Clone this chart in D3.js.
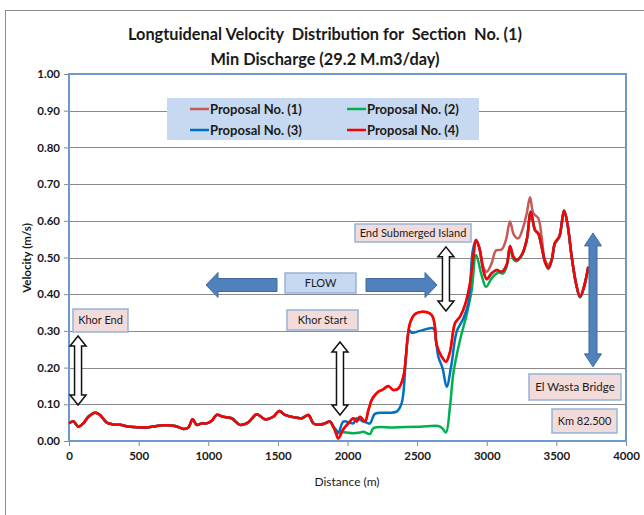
<!DOCTYPE html>
<html>
<head>
<meta charset="utf-8">
<script src="https://cdn.jsdelivr.net/npm/d3@7"></script>
<style>
body { margin: 0; background: #fff; }
text { font-family: Lato, "Open Sans", sans-serif; fill: #1a1a1a; white-space: pre; }
</style>
</head>
<body>
<svg width="644" height="515"></svg>
<script>
// ---- data ----
var seriesNames = ["Proposal No. (1)", "Proposal No. (2)", "Proposal No. (3)", "Proposal No. (4)"];
var seriesColors = ["#C55A58", "#00B050", "#0070C0", "#FF0000"];
var xTicks = [0, 500, 1000, 1500, 2000, 2500, 3000, 3500, 4000];
var yTicks = [0, 0.1, 0.2, 0.3, 0.4, 0.5, 0.6, 0.7, 0.8, 0.9, 1.0];

// stretch shared by all four proposals (distance m, velocity m/s)
var sharedDist = [0, 31, 67, 103, 139, 187, 223, 271, 318, 366, 438, 558, 677, 761, 821, 857, 888, 917, 953, 989,
    1025, 1060, 1108, 1168, 1228, 1276, 1300, 1348, 1408, 1467, 1510, 1551, 1611, 1671, 1719, 1755, 1790, 1838, 1874, 1898];
var sharedVel = [0.048, 0.054, 0.039, 0.048, 0.066, 0.077, 0.071, 0.050, 0.045, 0.044, 0.039, 0.037, 0.043, 0.041, 0.033, 0.037, 0.059, 0.044, 0.048, 0.048,
    0.055, 0.071, 0.066, 0.062, 0.044, 0.048, 0.055, 0.073, 0.059, 0.066, 0.082, 0.071, 0.065, 0.062, 0.071, 0.048, 0.044, 0.048, 0.053, 0.039];

var p1Dist = [1917, 1934, 1970, 2006, 2042, 2066, 2090, 2126, 2150, 2174, 2197, 2221, 2257, 2293, 2329, 2365, 2401, 2430, 2449, 2485,
    2544, 2605, 2628, 2640, 2676, 2707, 2736, 2772, 2808, 2844, 2880, 2904, 2923, 2947, 2975, 3000, 3035, 3066, 3107, 3138,
    3167, 3196, 3227, 3263, 3287, 3311, 3335, 3370, 3394, 3418, 3442, 3466, 3490, 3521, 3555, 3579, 3610, 3641, 3670, 3698, 3729];
var p1Vel = [0.021, 0.007, 0.032, 0.048, 0.062, 0.053, 0.066, 0.053, 0.084, 0.112, 0.125, 0.134, 0.141, 0.150, 0.139, 0.143, 0.175, 0.275, 0.321, 0.346,
    0.352, 0.343, 0.311, 0.262, 0.230, 0.216, 0.243, 0.321, 0.339, 0.371, 0.430, 0.502, 0.548, 0.528, 0.475, 0.461, 0.484, 0.519, 0.522, 0.548,
    0.598, 0.561, 0.552, 0.584, 0.620, 0.664, 0.620, 0.607, 0.557, 0.493, 0.480, 0.493, 0.540, 0.557, 0.628, 0.593, 0.502, 0.430, 0.393, 0.420, 0.475];

var p2Dist = [1917, 1934, 1958, 1994, 2042, 2090, 2114, 2162, 2186, 2329, 2521, 2652, 2680, 2707, 2736, 2760, 2808, 2856, 2892, 2923,
    2963, 2995, 3035, 3083, 3119, 3143, 3167, 3191, 3215, 3251, 3287, 3316, 3347, 3370, 3394, 3418, 3442, 3466, 3490, 3521,
    3555, 3579, 3610, 3641, 3670, 3698, 3729];
var p2Vel = [0.030, 0.025, 0.025, 0.023, 0.021, 0.023, 0.025, 0.019, 0.035, 0.037, 0.039, 0.041, 0.035, 0.023, 0.094, 0.184, 0.275, 0.345, 0.411, 0.507,
    0.452, 0.420, 0.443, 0.459, 0.457, 0.475, 0.525, 0.495, 0.490, 0.505, 0.546, 0.623, 0.573, 0.564, 0.528, 0.487, 0.469, 0.491, 0.538, 0.555,
    0.626, 0.591, 0.500, 0.428, 0.391, 0.418, 0.473];

var p3Dist = [1917, 1934, 1970, 2018, 2042, 2066, 2114, 2138, 2162, 2197, 2281, 2353, 2389, 2420, 2444, 2461, 2521, 2616, 2635, 2652,
    2683, 2712, 2748, 2784, 2832, 2868, 2900, 2923, 2947, 2975, 3000, 3035, 3071, 3107, 3143, 3167, 3191, 3215, 3251, 3287,
    3316, 3347, 3370, 3394, 3418, 3442, 3466, 3490, 3521, 3555, 3579, 3610, 3641, 3670, 3698, 3729];
var p3Vel = [0.030, 0.021, 0.053, 0.050, 0.048, 0.062, 0.053, 0.050, 0.048, 0.074, 0.077, 0.080, 0.103, 0.230, 0.302, 0.295, 0.300, 0.307, 0.275, 0.230,
    0.198, 0.148, 0.212, 0.298, 0.334, 0.375, 0.520, 0.548, 0.525, 0.466, 0.441, 0.457, 0.466, 0.461, 0.480, 0.531, 0.502, 0.493, 0.507, 0.548,
    0.625, 0.575, 0.566, 0.530, 0.489, 0.471, 0.493, 0.540, 0.557, 0.628, 0.593, 0.502, 0.430, 0.393, 0.420, 0.475];

var p4Dist = [1917, 1934, 1970, 2006, 2042, 2066, 2090, 2126, 2150, 2174, 2197, 2221, 2257, 2293, 2329, 2365, 2401, 2430, 2449, 2485,
    2544, 2605, 2628, 2640, 2676, 2707, 2736, 2772, 2808, 2844, 2880, 2904, 2923, 2947, 2975, 3000, 3035, 3071, 3107, 3143,
    3167, 3191, 3215, 3251, 3287, 3316, 3347, 3370, 3394, 3418, 3442, 3466, 3490, 3521, 3555, 3579, 3610, 3641, 3670, 3698, 3729];
var p4Vel = [0.021, 0.007, 0.032, 0.048, 0.062, 0.053, 0.066, 0.053, 0.084, 0.112, 0.125, 0.134, 0.141, 0.150, 0.139, 0.143, 0.175, 0.275, 0.321, 0.346,
    0.352, 0.343, 0.311, 0.262, 0.230, 0.216, 0.243, 0.321, 0.339, 0.371, 0.430, 0.502, 0.548, 0.525, 0.466, 0.441, 0.457, 0.466, 0.461, 0.480,
    0.531, 0.502, 0.493, 0.507, 0.548, 0.625, 0.575, 0.566, 0.530, 0.489, 0.471, 0.493, 0.540, 0.557, 0.628, 0.593, 0.502, 0.430, 0.393, 0.420, 0.475];

function buildSeries(dist, vel) {
    var allVel = sharedVel.concat(vel);
    return sharedDist.concat(dist).map(function (d, i) {
        return { d: d, v: allVel[i] };
    });
}
var seriesData = [
    buildSeries(p1Dist, p1Vel),
    buildSeries(p2Dist, p2Vel),
    buildSeries(p3Dist, p3Vel),
    buildSeries(p4Dist, p4Vel)
];

// ---- layout ----
var plot = { left: 69, top: 74, right: 626, bottom: 441 };
var svg = d3.select("svg");

var x = d3.scaleLinear().domain([0, 4000]).range([plot.left, plot.right]);
var y = d3.scaleLinear().domain([0, 1]).range([plot.bottom, plot.top]);

// outer chart frame
svg.append("rect")
    .attr("x", 5.5).attr("y", 10.5)
    .attr("width", 700).attr("height", 600)
    .attr("fill", "none").attr("stroke", "#8c8c8c");

// title
svg.append("text").attr("x", 325).attr("y", 40)
    .attr("text-anchor", "middle").attr("font-size", 17).attr("font-weight", "bold")
    .attr("textLength", 394).attr("lengthAdjust", "spacingAndGlyphs")
    .text("Longtuidenal Velocity  Distribution for  Section  No. (1)");
svg.append("text").attr("x", 325).attr("y", 65)
    .attr("text-anchor", "middle").attr("font-size", 17).attr("font-weight", "bold")
    .attr("textLength", 229).attr("lengthAdjust", "spacingAndGlyphs")
    .text("Min Discharge (29.2 M.m3/day)");

// gridlines
svg.append("g").selectAll("line")
    .data(yTicks.slice(1, -1))
    .enter().append("line")
    .attr("x1", plot.left).attr("x2", plot.right)
    .attr("y1", function (d) { return Math.round(y(d)) + 0.5; })
    .attr("y2", function (d) { return Math.round(y(d)) + 0.5; })
    .attr("stroke", "#8a8a8a").attr("stroke-width", 1);

// axes
var xAxis = svg.append("g")
    .attr("transform", "translate(0," + plot.bottom + ")")
    .call(d3.axisBottom(x).tickValues(xTicks).tickFormat(d3.format("d")).tickSize(5).tickPadding(6));
var yAxis = svg.append("g")
    .attr("transform", "translate(" + plot.left + ",0)")
    .call(d3.axisLeft(y).tickValues(yTicks).tickFormat(d3.format(".2f")).tickSize(5).tickPadding(4));
[xAxis, yAxis].forEach(function (g) {
    g.select(".domain").remove();
    g.selectAll(".tick line").attr("stroke", "#8a8a8a");
    g.selectAll(".tick text")
        .attr("font-family", "Lato, sans-serif").attr("font-size", 11.5)
        .attr("font-weight", "bold").attr("fill", "#1a1a1a");
});

// plot area frame
svg.append("rect")
    .attr("x", plot.left).attr("y", plot.top)
    .attr("width", plot.right - plot.left).attr("height", plot.bottom - plot.top)
    .attr("fill", "none").attr("stroke", "#6F98CC").attr("stroke-width", 2);

// axis titles
svg.append("text").attr("x", 347).attr("y", 486)
    .attr("text-anchor", "middle").attr("font-size", 12)
    .text("Distance (m)");
svg.append("text")
    .attr("transform", "translate(31,258) rotate(-90)")
    .attr("text-anchor", "middle").attr("font-size", 11.5).attr("font-weight", "bold")
    .text("Velocity (m/s)");

// series lines
var line = d3.line()
    .x(function (p) { return x(p.d); })
    .y(function (p) { return y(p.v); })
    .curve(d3.curveCatmullRom.alpha(0.5));
svg.append("g").selectAll("path.series")
    .data(seriesData)
    .enter().append("path")
    .classed("series", true)
    .attr("d", line)
    .attr("fill", "none")
    .attr("stroke", function (s, i) { return seriesColors[i]; })
    .attr("stroke-width", 2.5)
    .attr("stroke-linejoin", "round");

// legend
var legend = svg.append("g");
legend.append("rect")
    .attr("x", 167).attr("y", 98).attr("width", 312).attr("height", 42)
    .attr("fill", "#C6D9F1");
var legendPos = [[190, 109], [347, 109], [190, 130], [347, 130]];
seriesNames.forEach(function (name, i) {
    var pos = legendPos[i];
    legend.append("line")
        .attr("x1", pos[0]).attr("x2", pos[0] + 19)
        .attr("y1", pos[1]).attr("y2", pos[1])
        .attr("stroke", seriesColors[i]).attr("stroke-width", 2.5);
    legend.append("text")
        .attr("x", pos[0] + 20).attr("y", pos[1])
        .attr("dy", "0.36em").attr("font-size", 13).attr("font-weight", "bold")
        .text(name);
});

// annotation boxes
var boxes = [
    { text: "Khor End", x: 73, y: 309, w: 55, h: 23, fill: "#F2DCDB", size: 11 },
    { text: "FLOW", x: 285, y: 273, w: 71, h: 20, fill: "#C6D9F1", size: 11 },
    { text: "Khor Start", x: 287, y: 310, w: 71, h: 20, fill: "#F2DCDB", size: 11 },
    { text: "End Submerged Island", x: 355, y: 224, w: 116, h: 18, fill: "#F2DCDB", size: 11 },
    { text: "El Wasta Bridge", x: 529, y: 374, w: 92, h: 26, fill: "#F2DCDB", size: 11.5 },
    { text: "Km 82.500", x: 552, y: 409, w: 65, h: 24, fill: "#F2DCDB", size: 11 }
];
var boxG = svg.append("g").selectAll("g")
    .data(boxes)
    .enter().append("g");
boxG.append("rect")
    .attr("x", function (b) { return b.x; }).attr("y", function (b) { return b.y; })
    .attr("width", function (b) { return b.w; }).attr("height", function (b) { return b.h; })
    .attr("fill", function (b) { return b.fill; })
    .attr("stroke", "#95B3D7").attr("stroke-width", 1.5);
boxG.append("text")
    .attr("x", function (b) { return b.x + b.w / 2; })
    .attr("y", function (b) { return b.y + b.h / 2; })
    .attr("dy", "0.36em").attr("text-anchor", "middle")
    .attr("font-size", function (b) { return b.size; })
    .text(function (b) { return b.text; });

// vertical double arrow polygon
function doubleArrow(cx, y1, y2, shaftW, headW, headL) {
    return [
        [cx, y1], [cx + headW / 2, y1 + headL], [cx + shaftW / 2, y1 + headL],
        [cx + shaftW / 2, y2 - headL], [cx + headW / 2, y2 - headL], [cx, y2],
        [cx - headW / 2, y2 - headL], [cx - shaftW / 2, y2 - headL],
        [cx - shaftW / 2, y1 + headL], [cx - headW / 2, y1 + headL]
    ].join(" ");
}
// horizontal single arrow polygon (tail -> tip)
function blockArrow(tail, tip, cy, shaftH, headH, headL) {
    var dir = tip > tail ? 1 : -1;
    var neck = tip - dir * headL;
    return [
        [tail, cy - shaftH / 2], [neck, cy - shaftH / 2], [neck, cy - headH / 2], [tip, cy],
        [neck, cy + headH / 2], [neck, cy + shaftH / 2], [tail, cy + shaftH / 2]
    ].join(" ");
}

// markers at section locations (distance, velocity span)
var markers = [
    { d: 65, v1: 0.286, v2: 0.098 },
    { d: 1946, v1: 0.270, v2: 0.071 },
    { d: 2707, v1: 0.529, v2: 0.354 }
];
svg.append("g").selectAll("polygon")
    .data(markers)
    .enter().append("polygon")
    .attr("points", function (m) { return doubleArrow(x(m.d), y(m.v1), y(m.v2), 7, 16, 10); })
    .attr("fill", "#fff").attr("stroke", "#111").attr("stroke-width", 1.5);

// El Wasta bridge arrow
svg.append("polygon")
    .attr("points", doubleArrow(x(3763), y(0.567), y(0.202), 8, 17, 13))
    .attr("fill", "#4F81BD").attr("stroke", "#3E6A9E").attr("stroke-width", 1);

// flow arrows
svg.append("polygon")
    .attr("points", blockArrow(277, 206, 285, 13, 25, 12))
    .attr("fill", "#4F81BD").attr("stroke", "#3E6A9E").attr("stroke-width", 1);
svg.append("polygon")
    .attr("points", blockArrow(366, 437, 285, 13, 25, 12))
    .attr("fill", "#4F81BD").attr("stroke", "#3E6A9E").attr("stroke-width", 1);
</script>
</body>
</html>
